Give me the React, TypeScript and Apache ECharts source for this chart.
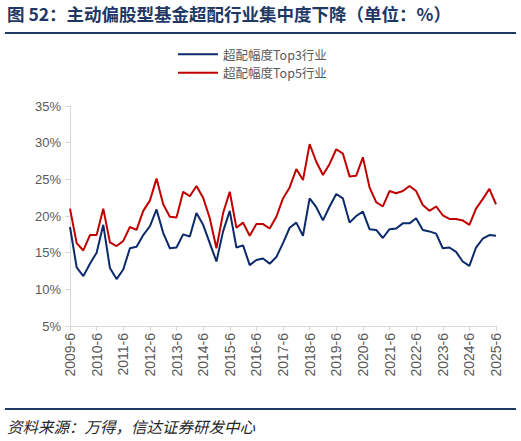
import React, { useEffect, useRef } from "react";
import * as echarts from "echarts";

const categories: string[] = [
  "2009-6", "2009-9", "2009-12", "2010-3",
  "2010-6", "2010-9", "2010-12", "2011-3",
  "2011-6", "2011-9", "2011-12", "2012-3",
  "2012-6", "2012-9", "2012-12", "2013-3",
  "2013-6", "2013-9", "2013-12", "2014-3",
  "2014-6", "2014-9", "2014-12", "2015-3",
  "2015-6", "2015-9", "2015-12", "2016-3",
  "2016-6", "2016-9", "2016-12", "2017-3",
  "2017-6", "2017-9", "2017-12", "2018-3",
  "2018-6", "2018-9", "2018-12", "2019-3",
  "2019-6", "2019-9", "2019-12", "2020-3",
  "2020-6", "2020-9", "2020-12", "2021-3",
  "2021-6", "2021-9", "2021-12", "2022-3",
  "2022-6", "2022-9", "2022-12", "2023-3",
  "2023-6", "2023-9", "2023-12", "2024-3",
  "2024-6", "2024-9", "2024-12", "2025-3",
  "2025-6",
];

const top3: number[] = [
  18.5, 13.0, 11.8, 13.5,
  15.0, 18.8, 12.9, 11.4,
  12.7, 15.6, 15.8, 17.4,
  18.6, 20.9, 17.7, 15.6,
  15.7, 17.5, 17.2, 20.4,
  18.8, 16.3, 13.8, 17.9,
  20.7, 15.7, 16.0, 13.3,
  14.0, 14.2, 13.5, 14.4,
  16.3, 18.4, 19.1, 17.3,
  22.4, 21.2, 19.4, 21.3,
  23.0, 22.4, 19.1, 20.0,
  20.6, 18.2, 18.1, 17.0,
  18.2, 18.3, 19.0, 19.0,
  19.7, 18.1, 17.9, 17.6,
  15.6, 15.7, 15.1, 13.8,
  13.2, 15.7, 16.9, 17.4,
  17.3,
];

const top5: number[] = [
  21.0, 16.3, 15.3, 17.4,
  17.4, 21.0, 16.4, 15.9,
  16.6, 18.5, 18.1, 20.7,
  22.1, 25.1, 21.6, 19.9,
  19.8, 23.3, 22.7, 24.1,
  22.5, 19.7, 15.6, 20.4,
  23.3, 18.4, 19.1, 17.3,
  18.9, 18.9, 18.3, 19.9,
  22.4, 23.9, 26.4, 24.9,
  29.8, 27.4, 25.6, 27.1,
  29.1, 28.5, 25.4, 25.5,
  28.0, 23.9, 21.9, 21.3,
  23.4, 23.1, 23.4, 24.1,
  23.4, 21.5, 20.7, 21.3,
  20.1, 19.6, 19.6, 19.4,
  18.8, 21.0, 22.3, 23.7,
  21.6,
];

const seriesNames: string[] = ["超配幅度Top3行业", "超配幅度Top5行业"];
const titleText = "图 52：主动偏股型基金超配行业集中度下降（单位：%）";
const sourceText = "资料来源：万得，信达证券研发中心";

const NAVY = "#1F3864";
const BLUE = "#0B2A6B";
const RED = "#C00000";
const GRAY_TEXT = "#595959";
const AXIS = "#D9D9D9";
const CJK = "'Noto Sans CJK SC', 'Noto Sans', sans-serif";
const LATIN = "'Liberation Sans', Arial, sans-serif";

export default function App() {
  const ref = useRef<HTMLDivElement>(null);

  useEffect(() => {
    if (!ref.current) return;
    const chart = echarts.init(ref.current, null, { renderer: "svg" });
    chart.setOption({
      animation: false,
      backgroundColor: "#ffffff",
      grid: { left: 70, right: 25, top: 106, bottom: 115, containLabel: false },
      legend: {
        orient: "vertical",
        left: 178,
        top: 48,
        icon: "rect",
        itemWidth: 40,
        itemHeight: 2,
        itemGap: 6,
        padding: 0,
        data: seriesNames,
        textStyle: {
          fontFamily: CJK,
          fontSize: 12.5,
          color: GRAY_TEXT,
          lineHeight: 12.5,
        },
      },
      xAxis: {
        type: "category",
        data: categories,
        boundaryGap: false,
        axisLine: { lineStyle: { color: AXIS, width: 1 } },
        axisTick: { show: true, interval: 3, length: 5, lineStyle: { color: AXIS } },
        axisLabel: {
          interval: 3,
          rotate: 90,
          fontFamily: LATIN,
          fontSize: 14,
          color: GRAY_TEXT,
          margin: 7,
        },
        splitLine: { show: false },
      },
      yAxis: {
        type: "value",
        min: 5,
        max: 35,
        interval: 5,
        axisLine: { show: true, lineStyle: { color: AXIS, width: 1 } },
        axisTick: { show: true, length: 5, lineStyle: { color: AXIS } },
        axisLabel: {
          formatter: "{value}%",
          fontFamily: LATIN,
          fontSize: 13,
          color: GRAY_TEXT,
          margin: 9,
        },
        splitLine: { show: false },
      },
      series: [
        {
          name: seriesNames[0],
          type: "line",
          data: top3,
          symbol: "none",
          lineStyle: { color: BLUE, width: 2 },
          itemStyle: { color: BLUE },
        },
        {
          name: seriesNames[1],
          type: "line",
          data: top5,
          symbol: "none",
          lineStyle: { color: RED, width: 2 },
          itemStyle: { color: RED },
        },
      ],
      graphic: [
        {
          type: "text",
          left: 7,
          top: 5,
          style: {
            text: titleText,
            fill: NAVY,
            font: `bold 17.5px ${CJK}`,
          },
        },
        {
          type: "rect",
          shape: { x: 5, y: 32, width: 511, height: 2 },
          style: { fill: NAVY },
        },
        {
          type: "rect",
          shape: { x: 5, y: 408, width: 511, height: 2 },
          style: { fill: NAVY },
        },
        {
          type: "text",
          left: 7,
          top: 418,
          style: {
            text: sourceText,
            fill: "#262626",
            font: `italic 15.5px ${CJK}`,
          },
        },
      ],
    });
    return () => chart.dispose();
  }, []);

  return (
    <div
      ref={ref}
      style={{ position: "fixed", left: 0, top: 0, width: 521, height: 441 }}
    />
  );
}
